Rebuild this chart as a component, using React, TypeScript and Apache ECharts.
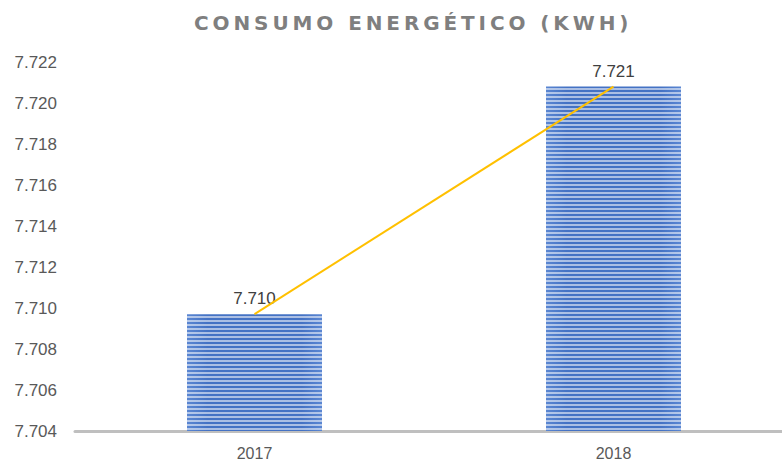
import React, { useEffect, useRef } from "react";
import * as echarts from "echarts";

const TITLE = "CONSUMO ENERGÉTICO (KWH)";
const categories = ["2017", "2018"];
const consumo = [7709.7, 7720.8];
const yMin = 7704;
const yMax = 7722;
const yStep = 2;

const fmt = (v: number) => {
  const r = Math.round(v);
  const s = String(r);
  return s.slice(0, s.length - 3) + "." + s.slice(s.length - 3);
};

export default function App() {
  const ref = useRef<HTMLDivElement>(null);
  useEffect(() => {
    if (!ref.current) return;
    const chart = echarts.init(ref.current, undefined, { renderer: "svg" });
    const font = "'Liberation Sans', Arial, sans-serif";
    chart.setOption({
      animation: false,
      backgroundColor: "#ffffff",
      title: {
        text: TITLE,
        left: 189,
        top: 8,
        textStyle: {
          fontFamily: "'DejaVu Sans', sans-serif",
          fontSize: 20,
          fontWeight: "bold",
          color: "#7f7f7f",
        },
      },
      grid: {
        left: 75,
        width: 718,
        top: 62,
        bottom: 35,
        containLabel: false,
        outerBoundsMode: "none",
      },
      xAxis: {
        type: "category",
        data: categories,
        axisLine: { lineStyle: { color: "#bfbfbf", width: 3 } },
        axisTick: { show: false },
        axisLabel: { fontFamily: font, fontSize: 16, color: "#595959", margin: 14 },
      },
      yAxis: {
        type: "value",
        min: yMin,
        max: yMax,
        interval: yStep,
        axisLine: { show: false },
        axisTick: { show: false },
        splitLine: { show: false },
        axisLabel: {
          fontFamily: font,
          fontSize: 17,
          color: "#595959",
          margin: 18,
          formatter: (v: number) => fmt(v),
        },
      },
      series: [
        {
          type: "bar",
          data: consumo,
          barWidth: 135,
          itemStyle: {
            color: {
              type: "linear",
              x: 0,
              y: 0,
              x2: 1,
              y2: 0,
              colorStops: [
                { offset: 0, color: "#5a86d2" },
                { offset: 0.15, color: "#4472c4" },
                { offset: 0.85, color: "#4472c4" },
                { offset: 1, color: "#5a86d2" },
              ],
            },
            decal: {
              symbol: "rect",
              symbolSize: 1,
              color: "rgba(255,255,255,0.55)",
              dashArrayX: [1, 0],
              dashArrayY: [2, 2],
              rotation: 0,
            },
          },
          label: {
            show: true,
            position: "top",
            distance: 7,
            fontFamily: font,
            fontSize: 17,
            color: "#404040",
            formatter: (p: any) => fmt(p.value),
          },
          z: 2,
        },
        {
          type: "line",
          data: consumo,
          showSymbol: false,
          symbol: "none",
          lineStyle: { color: "#ffc000", width: 2 },
          z: 3,
        },
      ],
    });
    const patch = () => {
      ref.current?.querySelectorAll("text").forEach((t) => {
        if (t.textContent === TITLE) {
          (t as SVGTextElement).style.letterSpacing = "3.9px";
        }
      });
    };
    patch();
    chart.on("finished", patch);
    return () => chart.dispose();
  }, []);
  return <div ref={ref} style={{ width: 782, height: 466, position: "absolute", left: 0, top: 0 }} />;
}
